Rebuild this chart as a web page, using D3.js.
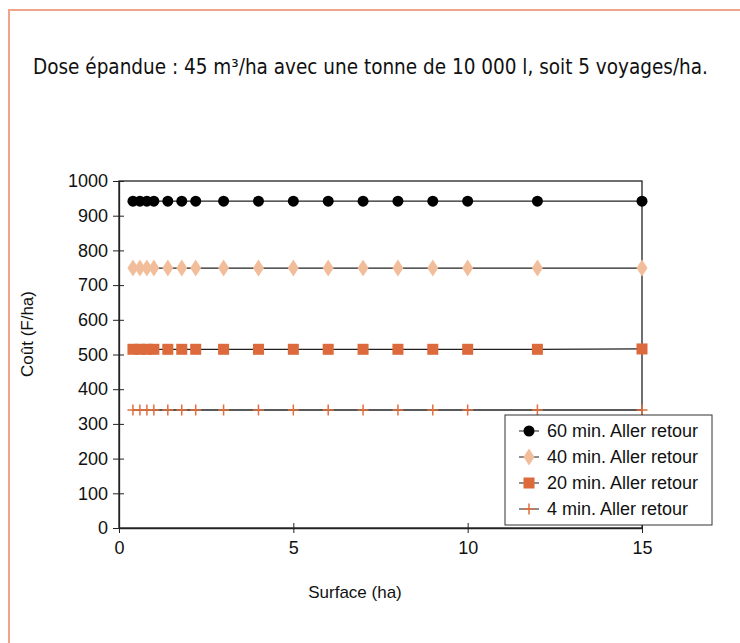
<!DOCTYPE html>
<meta charset="utf-8">
<script src="https://d3js.org/d3.v7.min.js"></script>
<style>
  body { margin: 0; background: #fff; }
  svg text { font-family: "Liberation Sans", Arial, sans-serif; fill: #111; }
</style>
<div id="chart"></div>
<script>

// surface values (ha)
var surfaces = [0.4, 0.6, 0.8, 1, 1.4, 1.8, 2.2, 3, 4, 5, 6, 7, 8, 9, 10, 12, 15];

// cost (F/ha) for each round trip duration
var cost60 = [942, 942, 942, 942, 942, 942, 942, 942, 942, 942, 942, 942, 942, 942, 942, 942, 942];
var cost40 = [749, 749, 749, 749, 749, 749, 749, 749, 749, 749, 749, 749, 749, 749, 749, 749, 749];
var cost20 = [515, 515, 515, 515, 515, 515, 515, 515, 515, 515, 515, 515, 515, 515, 515, 515, 516];
var cost4  = [340, 340, 340, 340, 340, 340, 340, 340, 340, 340, 340, 340, 340, 340, 340, 340, 340];

var seriesNames = ["60 min. Aller retour", "40 min. Aller retour", "20 min. Aller retour", "4 min. Aller retour"];
var xTicks = [0, 5, 10, 15];
var yTicks = [0, 100, 200, 300, 400, 500, 600, 700, 800, 900, 1000];

var series = [
  {name: seriesNames[0], values: cost60, marker: "circle", color: "#000000"},
  {name: seriesNames[1], values: cost40, marker: "diamond", color: "#f2bd9a"},
  {name: seriesNames[2], values: cost20, marker: "square", color: "#dc6a3c"},
  {name: seriesNames[3], values: cost4, marker: "plus", color: "#e0703f"}
];

var W = 740, H = 643;
var svg = d3.select("#chart").append("svg")
    .attr("width", W)
    .attr("height", H);

// page frame
svg.append("path")
    .attr("d", "M9,643 V10 H740")
    .attr("fill", "none")
    .attr("stroke", "#f0a58a")
    .attr("stroke-width", 2);

// heading
svg.append("text")
    .attr("x", 33)
    .attr("y", 74)
    .style("font-family", "'DejaVu Sans Condensed', 'Liberation Sans Narrow', sans-serif")
    .style("font-size", "20.5px")
    .text("Dose épandue : 45 m³/ha avec une tonne de 10 000 l, soit 5 voyages/ha.");

var x = d3.scaleLinear().domain([0, 15]).range([119, 642]);
var y = d3.scaleLinear().domain([0, 1000]).range([528, 181]);

// plot box (top and right sides)
svg.append("rect")
    .attr("x", x(0))
    .attr("y", y(1000))
    .attr("width", x(15) - x(0))
    .attr("height", y(0) - y(1000))
    .attr("fill", "none")
    .attr("stroke", "#222")
    .attr("stroke-width", 1.3);

// axes, ticks crossing the line
var xAxis = svg.append("g")
    .attr("transform", "translate(0," + y(0) + ")")
    .call(d3.axisBottom(x).tickValues(xTicks).tickSize(0).tickPadding(13));
xAxis.selectAll(".tick line").remove();
xAxis.selectAll(".tick").append("line")
    .attr("y1", -5).attr("y2", 5).attr("stroke", "#222");
xAxis.select(".domain").attr("stroke", "#222").attr("stroke-width", 1.3);
xAxis.selectAll("text").style("font-size", "18px").attr("dy", "0.71em");

var yAxis = svg.append("g")
    .attr("transform", "translate(" + x(0) + ",0)")
    .call(d3.axisLeft(y).tickValues(yTicks).tickFormat(d3.format("d")).tickSize(0).tickPadding(11));
yAxis.selectAll(".tick line").remove();
yAxis.selectAll(".tick").append("line")
    .attr("x1", -6).attr("x2", 5).attr("stroke", "#222");
yAxis.select(".domain").attr("stroke", "#222").attr("stroke-width", 1.3);
yAxis.selectAll("text").style("font-size", "18px");

// axis titles
svg.append("text")
    .attr("transform", "translate(33,334)rotate(-90)")
    .attr("text-anchor", "middle")
    .style("font-size", "17px")
    .text("Coût (F/ha)");

svg.append("text")
    .attr("x", 355)
    .attr("y", 598)
    .attr("text-anchor", "middle")
    .style("font-size", "17px")
    .text("Surface (ha)");

// marker drawing
function drawMarker(g, type, color) {
  if (type === "circle") {
    g.append("circle").attr("r", 5.5).attr("fill", color);
  } else if (type === "diamond") {
    g.append("path").attr("d", "M0,-8.5 L5.5,0 L0,8.5 L-5.5,0 Z").attr("fill", color);
  } else if (type === "square") {
    g.append("rect").attr("x", -5.5).attr("y", -5.5).attr("width", 11).attr("height", 11).attr("fill", color);
  } else {
    g.append("path").attr("d", "M-5.5,0 H5.5 M0,-5.5 V5.5")
      .attr("stroke", color).attr("stroke-width", 1.5).attr("fill", "none");
  }
}

var line = d3.line()
    .x(function(d) { return x(d[0]); })
    .y(function(d) { return y(d[1]); });

series.forEach(function(s) {
  var pts = surfaces.map(function(v, i) { return [v, s.values[i]]; });
  svg.append("path")
      .datum(pts)
      .attr("d", line)
      .attr("fill", "none")
      .attr("stroke", "#222")
      .attr("stroke-width", 1.3);
  svg.selectAll(null)
      .data(pts)
      .enter()
      .append("g")
      .attr("transform", function(d) { return "translate(" + x(d[0]) + "," + y(d[1]) + ")"; })
      .each(function() { drawMarker(d3.select(this), s.marker, s.color); });
});

// legend
var legend = svg.append("g");
legend.append("rect")
    .attr("x", 505).attr("y", 415)
    .attr("width", 207).attr("height", 110)
    .attr("fill", "#fff")
    .attr("stroke", "#333")
    .attr("stroke-width", 1);

series.forEach(function(s, i) {
  var ly = 431 + i * 26;
  legend.append("line")
      .attr("x1", 519).attr("x2", 539)
      .attr("y1", ly).attr("y2", ly)
      .attr("stroke", "#444").attr("stroke-width", 1.2);
  var m = legend.append("g").attr("transform", "translate(529," + ly + ")");
  drawMarker(m, s.marker, s.color);
  legend.append("text")
      .attr("x", 547)
      .attr("y", ly)
      .attr("dy", "0.35em")
      .style("font-size", "18px")
      .text(s.name);
});

</script>
